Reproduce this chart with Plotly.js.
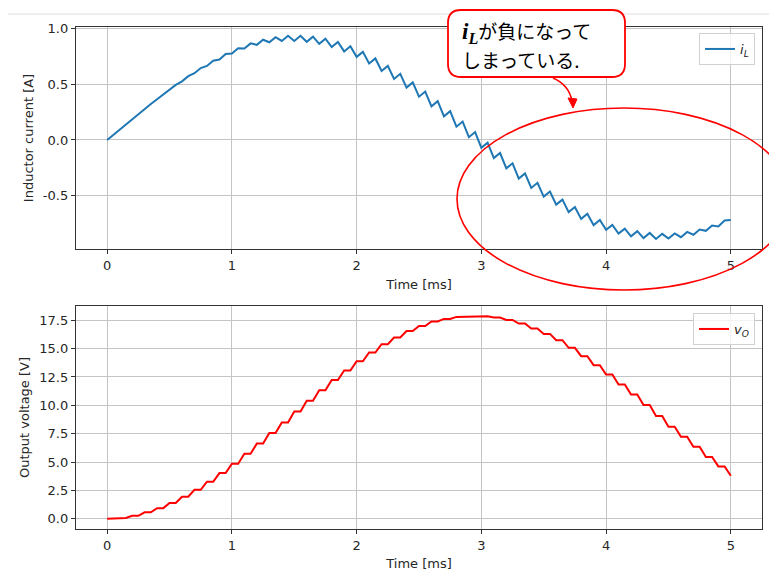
<!DOCTYPE html>
<html><head><meta charset="utf-8">
<script src="https://cdn.plot.ly/plotly-3.0.1.min.js"></script>
<style>html,body{margin:0;padding:0;background:#fff}</style>
</head><body><div id="chart" style="width:769px;height:571px"></div>
<script>
const time_ms = [0,0.05,0.1,0.15,0.2,0.25,0.3,0.35,0.4,0.45,0.5,0.55,0.6,0.65,0.7,0.75,0.8,0.85,0.9,0.95,
1.0,1.05,1.1,1.15,1.2,1.25,1.3,1.35,1.4,1.45,1.5,1.55,1.6,1.65,1.7,1.75,1.8,1.85,1.9,1.95,
2.0,2.05,2.1,2.15,2.2,2.25,2.3,2.35,2.4,2.45,2.5,2.55,2.6,2.65,2.7,2.75,2.8,2.85,2.9,2.95,
3.0,3.05,3.1,3.15,3.2,3.25,3.3,3.35,3.4,3.45,3.5,3.55,3.6,3.65,3.7,3.75,3.8,3.85,3.9,3.95,
4.0,4.05,4.1,4.15,4.2,4.25,4.3,4.35,4.4,4.45,4.5,4.55,4.6,4.65,4.7,4.75,4.8,4.85,4.9,4.95,5.0];

const inductor_current = [0.000,0.047,0.094,0.140,0.186,0.232,0.277,0.322,0.365,0.410,
0.448,0.494,0.526,0.572,0.598,0.645,0.664,0.711,0.722,0.770,
0.775,0.822,0.820,0.866,0.853,0.899,0.876,0.922,0.888,0.934,
0.888,0.934,0.880,0.926,0.862,0.908,0.833,0.879,0.794,0.840,
0.745,0.790,0.685,0.731,0.618,0.664,0.547,0.593,0.470,0.516,
0.388,0.434,0.302,0.348,0.212,0.258,0.119,0.165,0.025,0.071,
-0.070,-0.024,-0.163,-0.117,-0.255,-0.209,-0.346,-0.300,-0.430,-0.384,
-0.508,-0.463,-0.580,-0.535,-0.647,-0.602,-0.708,-0.662,-0.764,-0.718,
-0.806,-0.762,-0.840,-0.795,-0.864,-0.818,-0.880,-0.834,-0.888,-0.842,
-0.884,-0.838,-0.872,-0.825,-0.850,-0.803,-0.815,-0.768,-0.775,-0.722,-0.718];

const output_voltage = [0,0, 0.06,0.06, 0.25,0.25, 0.56,0.56, 0.93,0.93, 1.39,1.39, 1.94,1.94, 2.55,2.55, 3.26,3.26, 4.02,4.02,
4.85,4.85, 5.72,5.72, 6.63,6.63, 7.55,7.55, 8.48,8.48, 9.45,9.45, 10.40,10.40, 11.33,11.33, 12.23,12.23, 13.07,13.07,
13.89,13.89, 14.66,14.66, 15.39,15.39, 15.98,15.98, 16.56,16.56, 17.00,17.00, 17.39,17.39, 17.62,17.62, 17.80,17.80, 17.86,17.86,
17.86,17.86, 17.74,17.74, 17.53,17.53, 17.21,17.21, 16.77,16.77, 16.30,16.30, 15.74,15.74, 15.07,15.07, 14.33,14.33, 13.54,13.54,
12.72,12.72, 11.84,11.84, 10.96,10.96, 10.02,10.02, 9.05,9.05, 8.11,8.11, 7.23,7.23, 6.35,6.35, 5.44,5.44, 4.61,4.61, 3.79];

const xTickVals = [0,1,2,3,4,5];
const xTickText = ['0','1','2','3','4','5'];
const topTickVals = [-0.5,0,0.5,1.0];
const topTickText = ['-0.5','0.0','0.5','1.0'];
const botTickVals = [0,2.5,5,7.5,10,12.5,15,17.5];
const botTickText = ['0.0','2.5','5.0','7.5','10.0','12.5','15.0','17.5'];

const seriesNames = ['<i>i</i><sub><i>L</i></sub>', '<i>v</i><sub><i>O</i></sub>'];
const axisTitles = {x: 'Time [ms]', yTop: 'Inductor current [A]', yBot: 'Output voltage [V]'};
const calloutLine1 = '<span style="font-family:\'Liberation Serif\';font-weight:bold;font-size:23px"><i>i<sub>L</sub></i></span>が負になって';
const calloutLine2 = 'しまっている.';

// pixel -> paper helpers (layout geometry)
const ML = 76, MR = 7, MT = 27, MB = 42, W = 769, H = 571;
const PW = W - ML - MR, PH = H - MT - MB;
const px = x => (x - ML) / PW;
const py = y => (H - MB - y) / PH;
function roundRect(x0, y0, x1, y1, r) {
  const p = [];
  p.push(`M ${px(x0 + r)} ${py(y0)}`);
  p.push(`L ${px(x1 - r)} ${py(y0)}`);
  p.push(`Q ${px(x1)} ${py(y0)} ${px(x1)} ${py(y0 + r)}`);
  p.push(`L ${px(x1)} ${py(y1 - r)}`);
  p.push(`Q ${px(x1)} ${py(y1)} ${px(x1 - r)} ${py(y1)}`);
  p.push(`L ${px(x0 + r)} ${py(y1)}`);
  p.push(`Q ${px(x0)} ${py(y1)} ${px(x0)} ${py(y1 - r)}`);
  p.push(`L ${px(x0)} ${py(y0 + r)}`);
  p.push(`Q ${px(x0)} ${py(y0)} ${px(x0 + r)} ${py(y0)} Z`);
  return p.join(' ');
}

const FONT = 'DejaVu Sans';
const TXT = '#262626';
const FS = 13;

const traces = [
  {x: time_ms, y: inductor_current, type: 'scatter', mode: 'lines', name: seriesNames[0],
   line: {color: '#1f77b4', width: 2}, xaxis: 'x', yaxis: 'y', legend: 'legend'},
  {x: time_ms, y: output_voltage, type: 'scatter', mode: 'lines', name: seriesNames[1],
   line: {color: '#ff0000', width: 2}, xaxis: 'x2', yaxis: 'y2', legend: 'legend2'}
];

const axisCommon = {
  showline: true, mirror: true, linecolor: '#333', linewidth: 1.2,
  ticks: 'outside', ticklen: 4, tickwidth: 1, tickcolor: '#333',
  showgrid: true, gridcolor: '#c4c4c4', gridwidth: 1, zeroline: false,
  tickfont: {family: FONT, size: FS, color: TXT}, automargin: false
};

const layout = {
  width: W, height: H,
  margin: {l: ML, r: MR, t: MT, b: MB},
  paper_bgcolor: '#fff', plot_bgcolor: '#fff',
  showlegend: true,
  font: {family: FONT, size: FS, color: TXT},
  xaxis: Object.assign({}, axisCommon, {domain: [0, 1], anchor: 'y', range: [-0.25, 5.25],
    tickmode: 'array', tickvals: xTickVals, ticktext: xTickText,
    title: {text: axisTitles.x, font: {family: FONT, size: FS, color: TXT}, standoff: 8}}),
  yaxis: Object.assign({}, axisCommon, {domain: [py(249), 1], anchor: 'x', range: [-0.978, 1.013],
    tickmode: 'array', tickvals: topTickVals, ticktext: topTickText,
    title: {text: axisTitles.yTop, font: {family: FONT, size: FS, color: TXT}, standoff: 6}}),
  xaxis2: Object.assign({}, axisCommon, {domain: [0, 1], anchor: 'y2', range: [-0.25, 5.25],
    tickmode: 'array', tickvals: xTickVals, ticktext: xTickText,
    title: {text: axisTitles.x, font: {family: FONT, size: FS, color: TXT}, standoff: 8}}),
  yaxis2: Object.assign({}, axisCommon, {domain: [0, py(306)], anchor: 'x2', range: [-0.91, 18.76],
    tickmode: 'array', tickvals: botTickVals, ticktext: botTickText,
    title: {text: axisTitles.yBot, font: {family: FONT, size: FS, color: TXT}, standoff: 6}}),
  legend: {x: px(755), y: py(33), xanchor: 'right', yanchor: 'top', xref: 'paper', yref: 'paper',
    bgcolor: 'rgba(255,255,255,0.8)', bordercolor: '#d0d0d0', borderwidth: 1,
    font: {family: FONT, size: 13, color: TXT}, itemwidth: 30},
  legend2: {x: px(755), y: py(313), xanchor: 'right', yanchor: 'top', xref: 'paper', yref: 'paper',
    bgcolor: 'rgba(255,255,255,0.8)', bordercolor: '#d0d0d0', borderwidth: 1,
    font: {family: FONT, size: 13, color: TXT}, itemwidth: 30},
  shapes: [
    {type: 'line', xref: 'paper', yref: 'paper', x0: px(8), x1: px(769), y0: py(14), y1: py(14),
     line: {color: '#dedede', width: 1}},
    {type: 'circle', xref: 'paper', yref: 'paper', x0: px(457), x1: px(791), y0: py(290), y1: py(108),
     line: {color: '#ff0000', width: 1.6}, fillcolor: 'rgba(0,0,0,0)'},
    {type: 'path', xref: 'paper', yref: 'paper', path: roundRect(448, 10, 625, 77, 13),
     line: {color: '#ff0000', width: 1.8}, fillcolor: '#ffffff'},
    {type: 'path', xref: 'paper', yref: 'paper',
     path: `M ${px(553)} ${py(78)} Q ${px(569)} ${py(85)} ${px(572)} ${py(101)}`,
     line: {color: '#ff0000', width: 1.5}, fillcolor: 'rgba(0,0,0,0)'},
    {type: 'path', xref: 'paper', yref: 'paper',
     path: `M ${px(573)} ${py(108)} L ${px(568)} ${py(98)} L ${px(577)} ${py(99)} Z`,
     line: {color: '#ff0000', width: 1}, fillcolor: '#ff0000'}
  ],
  annotations: [
    {xref: 'paper', yref: 'paper', x: px(460), y: py(32), xanchor: 'left', yanchor: 'middle',
     text: calloutLine1, showarrow: false, font: {family: 'Noto Sans CJK JP', size: 19, color: '#000'}},
    {xref: 'paper', yref: 'paper', x: px(460), y: py(59), xanchor: 'left', yanchor: 'middle',
     text: calloutLine2, showarrow: false, font: {family: 'Noto Sans CJK JP', size: 19, color: '#000'}}
  ]
};

Plotly.newPlot('chart', traces, layout, {displayModeBar: false, responsive: false, staticPlot: true});
</script>
</body></html>
